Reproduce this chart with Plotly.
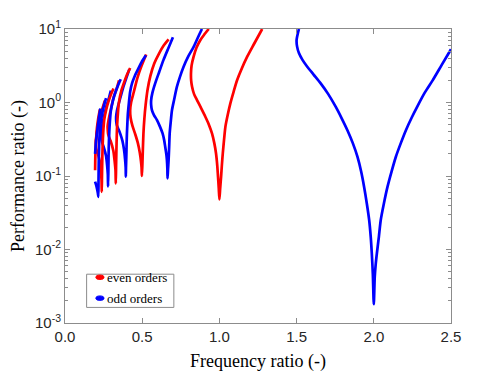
import plotly.graph_objects as go

# colours
EVEN_CLR = "#ff0000"
ODD_CLR = "#0000ff"
AXIS_CLR = "#8c8c8c"
TICK_TXT = "#262626"

# ── data (frequency ratio, performance ratio) ────────────────────────────────
# order 1 (odd)
freq_1 = [1.515, 1.500, 1.503, 1.515, 1.538, 1.569, 1.610, 1.656, 1.705, 1.753,
          1.792, 1.829, 1.864, 1.894, 1.918, 1.937, 1.955, 1.970, 1.980, 1.987,
          1.994, 2.000, 2.006, 2.012, 2.020, 2.033, 2.045, 2.065, 2.089, 2.115,
          2.143, 2.175, 2.208, 2.245, 2.284, 2.330, 2.381, 2.440, 2.500]
perf_1 = [10.0, 7.1, 5.8, 4.7, 3.8, 3.07, 2.4, 1.82, 1.3, 0.877,
          0.61, 0.42, 0.28, 0.183, 0.115, 0.0716, 0.042, 0.0252, 0.015, 0.0089,
          0.0045, 0.0018, 0.0042, 0.0062, 0.0089, 0.015, 0.0252, 0.042, 0.0716, 0.115,
          0.183, 0.28, 0.42, 0.62, 0.9, 1.36, 2.0, 3.25, 5.3]

# order 2 (even)
freq_2 = [0.931, 0.900, 0.877, 0.852, 0.833, 0.820, 0.816, 0.817, 0.823, 0.836,
          0.855, 0.880, 0.909, 0.932, 0.952, 0.967, 0.978, 0.986, 0.991, 0.996,
          1.000, 1.005, 1.011, 1.016, 1.022, 1.030, 1.039, 1.054, 1.071, 1.092,
          1.115, 1.145, 1.180, 1.225, 1.277]
perf_2 = [10.0, 8.3, 7.1, 5.6, 4.2, 3.2, 2.5, 2.0, 1.64, 1.3,
          1.08, 0.85, 0.64, 0.5, 0.38, 0.28, 0.204, 0.14, 0.098, 0.068,
          0.048, 0.068, 0.098, 0.14, 0.204, 0.31, 0.47, 0.68, 0.975, 1.4,
          2.02, 2.9, 4.2, 6.3, 10.0]

# order 3 (odd)
freq_3 = [0.699, 0.668, 0.638, 0.610, 0.584, 0.566, 0.558, 0.558, 0.563, 0.577,
          0.595, 0.615, 0.632, 0.642, 0.649, 0.656, 0.660, 0.663, 0.664, 0.667,
          0.671, 0.675, 0.678, 0.685, 0.693, 0.707, 0.725, 0.745, 0.768, 0.800,
          0.833, 0.860, 0.887]
perf_3 = [7.7, 5.4, 3.8, 2.6, 1.82, 1.35, 1.08, 0.92, 0.79, 0.67,
          0.58, 0.47, 0.38, 0.31, 0.25, 0.2, 0.165, 0.125, 0.093, 0.12,
          0.165, 0.26, 0.38, 0.55, 0.79, 1.1, 1.64, 2.25, 3.07, 4.3,
          5.7, 7.6, 10.0]

# order 4 (even)
freq_4 = [0.526, 0.497, 0.470, 0.446, 0.428, 0.422, 0.425, 0.437, 0.455, 0.472,
          0.484, 0.492, 0.496, 0.498, 0.501, 0.504, 0.508, 0.514, 0.522, 0.535,
          0.553, 0.578, 0.608, 0.638, 0.671]
perf_4 = [4.5, 3.2, 2.2, 1.4, 1.0, 0.78, 0.62, 0.48, 0.37, 0.28,
          0.21, 0.16, 0.13, 0.10, 0.14, 0.22, 0.38, 0.6, 0.92, 1.5,
          2.3, 3.4, 4.6, 5.9, 7.2]

# order 5 (odd)
freq_5 = [0.417, 0.397, 0.379, 0.362, 0.347, 0.336, 0.331, 0.332, 0.336, 0.345,
          0.357, 0.372, 0.382, 0.389, 0.393, 0.394, 0.395, 0.397, 0.399, 0.401,
          0.404, 0.407, 0.413, 0.422, 0.435, 0.452, 0.471, 0.496, 0.524]
perf_5 = [2.85, 2.15, 1.66, 1.24, 0.95, 0.76, 0.636, 0.55, 0.49, 0.44,
          0.38, 0.3, 0.23, 0.17, 0.13, 0.098, 0.13, 0.182, 0.27, 0.374,
          0.52, 0.692, 0.95, 1.4, 1.85, 2.3, 2.79, 3.55, 4.4]

# order 6 (even)
freq_6 = [0.350, 0.333, 0.316, 0.302, 0.290, 0.281, 0.276, 0.277, 0.279, 0.286,
          0.295, 0.313, 0.321, 0.327, 0.329, 0.331, 0.334, 0.338, 0.343, 0.349,
          0.365, 0.384, 0.402, 0.422]
perf_6 = [2.0, 1.5, 1.19, 0.9, 0.694, 0.56, 0.475, 0.42, 0.377, 0.335,
          0.302, 0.221, 0.163, 0.12, 0.079, 0.142, 0.282, 0.508, 0.73, 0.995,
          1.45, 1.91, 2.4, 2.95]

# order 7 (odd)
freq_7 = [0.297, 0.282, 0.268, 0.256, 0.2455, 0.238, 0.234, 0.235, 0.2366, 0.242,
          0.250, 0.2656, 0.2726, 0.2773, 0.279, 0.281, 0.283, 0.287, 0.291, 0.2965,
          0.310, 0.327, 0.344, 0.361]
perf_7 = [1.45, 1.1, 0.896, 0.69, 0.543, 0.44, 0.381, 0.34, 0.308, 0.28,
          0.25, 0.188, 0.141, 0.106, 0.072, 0.124, 0.235, 0.405, 0.56, 0.756,
          1.05, 1.39, 1.72, 2.07]

# order 8 (even)
freq_8 = [0.258, 0.243, 0.2287, 0.218, 0.2094, 0.203, 0.200, 0.2018, 0.206, 0.2132,
          0.2266, 0.2325, 0.2366, 0.238, 0.2397, 0.242, 0.2454, 0.249, 0.2542, 0.267,
          0.2828, 0.298, 0.314]
perf_8 = [1.06, 0.84, 0.672, 0.53, 0.417, 0.34, 0.298, 0.243, 0.22, 0.2,
          0.152, 0.116, 0.088, 0.061, 0.103, 0.19, 0.322, 0.44, 0.587, 0.8,
          1.05, 1.29, 1.55]

# order 9 (odd) - leaves the computed range on the left, hence the gap
freq_9 = [0.229, 0.219, 0.208, 0.200, 0.195, None, 0.195, 0.202, 0.208, 0.213,
          0.216, 0.2171, 0.2186, 0.2209, 0.2235, 0.2266, 0.235, 0.2454, 0.255, 0.266]
perf_9 = [0.83, 0.6, 0.4, 0.28, 0.2, None, 0.084, 0.075, 0.066, 0.058,
          0.052, 0.086, 0.155, 0.255, 0.35, 0.455, 0.6, 0.794, 0.96, 1.15]

# order 10 (even) - only its rising branch is in range
freq_10 = [0.195, 0.197, 0.201, 0.207, 0.215, 0.226]
perf_10 = [0.12, 0.2, 0.3, 0.45, 0.6, 0.8]

# y ticks
y_tickvals = [0.001, 0.01, 0.1, 1, 10]
y_ticktext = ["10<sup>-3</sup>", "10<sup>-2</sup>", "10<sup>-1</sup>",
              "10<sup>0</sup>", "10<sup>1</sup>"]

orders = [
    (1, freq_1, perf_1), (2, freq_2, perf_2), (3, freq_3, perf_3),
    (4, freq_4, perf_4), (5, freq_5, perf_5), (6, freq_6, perf_6),
    (7, freq_7, perf_7), (8, freq_8, perf_8), (10, freq_10, perf_10),
    (9, freq_9, perf_9),
]

fig = go.Figure()

for n, fx, fy in orders:
    clr = EVEN_CLR if n % 2 == 0 else ODD_CLR
    fig.add_trace(go.Scatter(
        x=fx, y=fy, mode="lines",
        line=dict(color=clr, width=2.7, shape="spline", smoothing=0.7),
        showlegend=False, hoverinfo="skip", connectgaps=False,
    ))

# ── hand-made legend box (MATLAB style: short blob + text) ───────────────────
LEG_FONT = dict(family="Liberation Serif", size=13, color="black")
fig.add_shape(type="rect", xref="paper", yref="paper",
              x0=0.056, x1=0.282, y0=0.053, y1=0.166,
              line=dict(color=AXIS_CLR, width=1), fillcolor="white", layer="above")
for label, clr, y0, y1, yt in [("even orders", EVEN_CLR, 0.148, 0.163, 0.1555),
                               ("odd orders", ODD_CLR, 0.077, 0.092, 0.0845)]:
    fig.add_shape(type="circle", xref="paper", yref="paper",
                  x0=0.080, x1=0.101, y0=y0, y1=y1,
                  line=dict(color=clr, width=1), fillcolor=clr, layer="above")
    fig.add_annotation(text=label, xref="paper", yref="paper",
                       x=0.106, y=yt, xanchor="left", yanchor="middle",
                       showarrow=False, font=LEG_FONT, borderpad=0)

# the page body adds an 8 px offset, so margins are trimmed by 8 px
fig.update_layout(
    width=498, height=374,
    margin=dict(l=57, r=55, t=21, b=59),
    plot_bgcolor="white", paper_bgcolor="white",
    showlegend=False,
)

fig.update_xaxes(
    range=[0, 2.5], dtick=0.5, tickformat=".1f",
    ticks="inside", ticklen=5, tickcolor=AXIS_CLR,
    showline=True, linecolor=AXIS_CLR, linewidth=1, mirror="ticks",
    showgrid=False, zeroline=False, automargin=False,
    tickfont=dict(family="Liberation Sans", size=15, color=TICK_TXT),
    title=dict(text="Frequency ratio (-)", standoff=10,
               font=dict(family="Liberation Serif", size=18, color="black")),
)
fig.update_yaxes(
    type="log", range=[-3, 1],
    tickvals=y_tickvals, ticktext=y_ticktext,
    ticks="inside", ticklen=5, tickcolor=AXIS_CLR,
    minor=dict(ticks="inside", ticklen=3, tickcolor=AXIS_CLR, dtick="D1"),
    showline=True, linecolor=AXIS_CLR, linewidth=1, mirror="ticks",
    showgrid=False, zeroline=False, automargin=False,
    tickfont=dict(family="Liberation Sans", size=15, color=TICK_TXT),
    title=dict(text="Performance ratio (-)", standoff=21,
               font=dict(family="Liberation Serif", size=18, color="black")),
)

fig.write_html("out.html")
